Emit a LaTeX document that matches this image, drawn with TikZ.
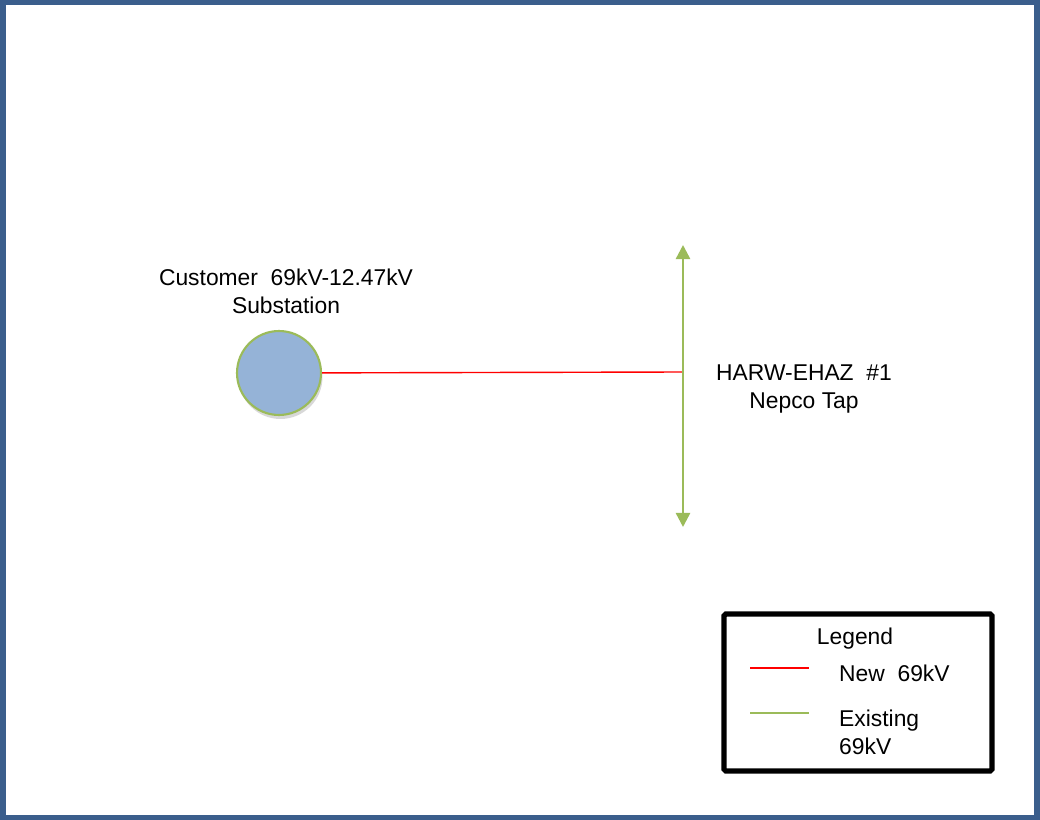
\documentclass[tikz,border=0pt]{standalone}
\usepackage{fontspec}
\setmainfont{Liberation Sans}
\usetikzlibrary{arrows.meta,shadows}
\definecolor{frameblue}{HTML}{3B5E8C}
\definecolor{subblue}{HTML}{95B3D7}
\definecolor{linegreen}{HTML}{9BBB59}
\tikzset{
    every node/.style={font=\fontsize{13}{15.8}\selectfont}
}
\tikzset{
    subst/.style={circle, fill=subblue, draw=linegreen, line width=1.2pt,
    	minimum size=1.68cm, inner sep=0pt,
    	drop shadow={shadow xshift=0.3mm, shadow yshift=-0.8mm, opacity=0.3}}
}
\tikzset{
    newline/.style={red, line width=0.8pt},
    oldline/.style={linegreen, line width=1.4pt}
}

\begin{document}
\begin{tikzpicture}[x=0.02cm, y=-0.02cm]
	\useasboundingbox (0,0) rectangle (1040,820);
	\fill[frameblue] (0,0) rectangle (1040,820);
	\fill[white] (6,5) rectangle (1034,815);

	\node[subst] (sub) at (279,373) {};
	\node[align=center] (sublabel) at (286,291) {Customer\ \ 69kV-12.47kV\\Substation};

	\coordinate (top) at (683,245);
	\coordinate (bottom) at (683,527);
	\coordinate (tap) at (683,372);
	\node[align=center] (taplabel) at (804,389) {HARW-EHAZ\ \ \#1\\Nepco\ Tap};

	\draw[newline] (sub) -- (tap);
	\draw[oldline, {Triangle[width=8pt,length=8pt]}-{Triangle[width=8pt,length=8pt]}]
		(top) -- (bottom);

	% legend
	\draw[black, line width=3pt, rounded corners=1pt] (724,614) rectangle (992,771);
	\node (legendtitle) at (855,639) {Legend};
	\coordinate (r1) at (750,668);
	\coordinate (r2) at (809,668);
	\coordinate (g1) at (750,713);
	\coordinate (g2) at (809,713);
	\draw[newline, line width=1pt] (r1) -- (r2);
	\draw[oldline, line width=1pt] (g1) -- (g2);
	\node[anchor=west] (newtext) at (833,673) {New\ \ 69kV};
	\node[anchor=west, align=left] (oldtext) at (833,732) {Existing\\69kV};
\end{tikzpicture}
\end{document}
